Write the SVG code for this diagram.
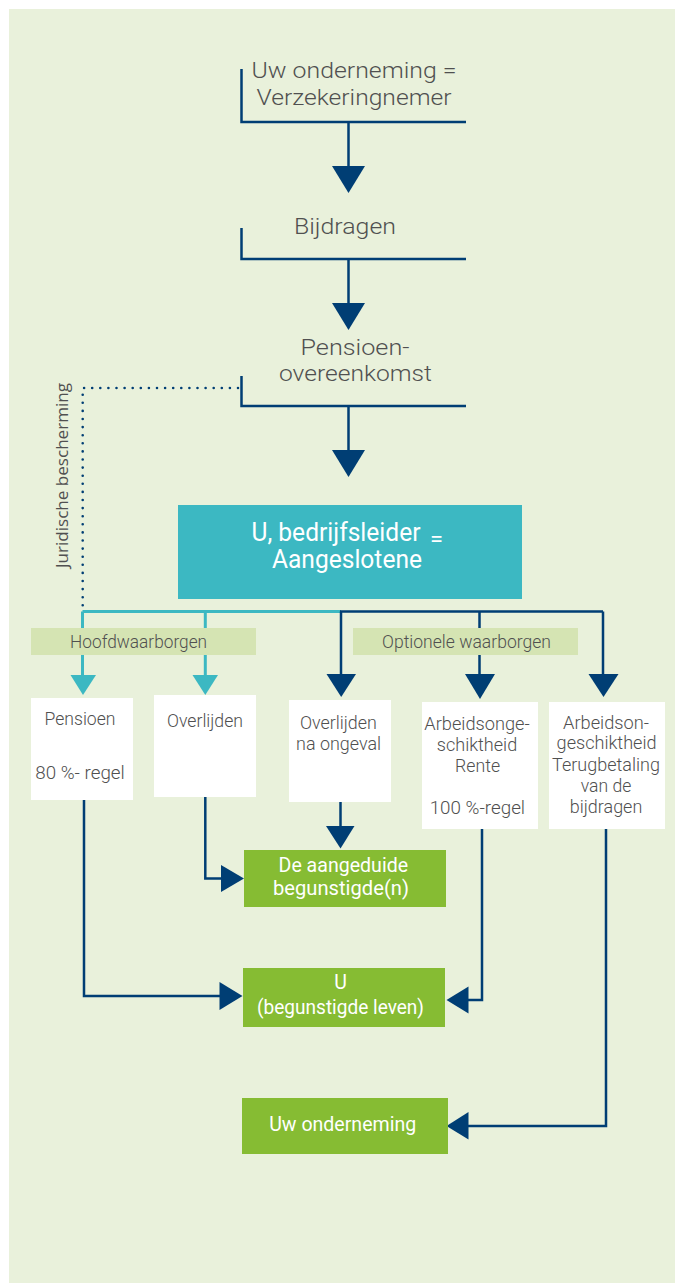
<svg xmlns="http://www.w3.org/2000/svg" width="675" height="1283" viewBox="0 0 675 1283">
<style>
.t{font-family:Roboto,"Liberation Sans",sans-serif;font-weight:300;fill:#505050;text-anchor:middle}
.w{font-family:Roboto,"Liberation Sans",sans-serif;fill:#fff;text-anchor:middle}
.ln{fill:none;stroke:#003E74;stroke-width:2.5}
.tl{fill:none;stroke:#3CB8C2;stroke-width:3}
.ah{fill:#003E74}
.th{fill:#3CB8C2}
.box{fill:#fff}
.gr{fill:#86BC33}
.lab{fill:#D5E4B3}
</style>
<rect x="9" y="9" width="666" height="1274" fill="#E9F1DB"/>

<g id="connectors">
<path class="ln" d="M241.5,69 V122 H466 M348.5,122 V168"/>
<polygon class="ah" points="332,166 365,166 348.5,193"/>
<path class="ln" d="M241.5,228 V259 H466 M348.5,259 V305"/>
<polygon class="ah" points="332,303 365,303 348.5,330"/>
<path class="ln" d="M241.5,376 V406 H466 M348.5,406 V452"/>
<polygon class="ah" points="332,450 365,450 348.5,477"/>
<path d="M238,388 H82.7 V608" fill="none" stroke="#003E74" stroke-width="2.6" stroke-linecap="round" stroke-dasharray="0 8.1"/>
<path class="tl" d="M82.5,611.5 H341 M82.5,611.5 V677 M205.3,611.5 V677"/>
<polygon class="th" points="70.5,675 96,675 83,695"/>
<polygon class="th" points="192.5,675 218,675 205.3,695"/>
<path class="ln" d="M340,611.5 H603 M341,611.5 V676 M479.5,611.5 V676 M603,611.5 V676"/>
<polygon class="ah" points="326.5,674 356,674 341.2,697"/>
<polygon class="ah" points="465,674 495,674 480,699"/>
<polygon class="ah" points="588.5,674 618.5,674 603.5,697"/>
<path class="ln" d="M84,800 V996 H222"/>
<polygon class="ah" points="219.5,982 219.5,1010 242.5,996"/>
<path class="ln" d="M205.3,797 V878.5 H223"/>
<polygon class="ah" points="221,865 221,892 244,878.5"/>
<path class="ln" d="M340.5,802 V828"/>
<polygon class="ah" points="326,826 354.5,826 340.5,848.5"/>
<path class="ln" d="M482,829 V1000 H466"/>
<polygon class="ah" points="468.5,986.5 468.5,1013.5 446.5,1000"/>
<path class="ln" d="M606,829 V1126 H466"/>
<polygon class="ah" points="468.5,1112 468.5,1139.5 446.5,1126"/>
</g>

<g id="n-onderneming">
<text class="t" x="354" y="78" font-size="22" textLength="205" lengthAdjust="spacingAndGlyphs">Uw onderneming =</text>
<text class="t" x="354" y="105" font-size="22" textLength="195" lengthAdjust="spacingAndGlyphs">Verzekeringnemer</text>
</g>
<g id="n-bijdragen">
<text class="t" x="345" y="234" font-size="22" textLength="102" lengthAdjust="spacingAndGlyphs">Bijdragen</text>
</g>
<g id="n-pensioenovereenkomst">
<text class="t" x="355" y="355" font-size="22" textLength="109" lengthAdjust="spacingAndGlyphs">Pensioen-</text>
<text class="t" x="355.5" y="381" font-size="22" textLength="153" lengthAdjust="spacingAndGlyphs">overeenkomst</text>
</g>
<g id="n-juridisch">
<text class="t" transform="translate(68,475.5) rotate(-90)" x="0" y="0" font-size="17" style="font-family:'Open Sans',sans-serif;font-weight:400" textLength="185" lengthAdjust="spacingAndGlyphs">Juridische bescherming</text>
</g>
<g id="n-aangeslotene">
<rect x="178" y="505" width="344" height="94" fill="#3CB8C2"/>
<text class="w" x="336" y="541" font-size="25" textLength="169" lengthAdjust="spacingAndGlyphs">U, bedrijfsleider</text>
<text class="w" x="436.5" y="546" font-size="22" textLength="13" lengthAdjust="spacingAndGlyphs">=</text>
<text class="w" x="347" y="568" font-size="25" textLength="150" lengthAdjust="spacingAndGlyphs">Aangeslotene</text>
</g>
<g id="n-hoofdwaarborgen">
<rect class="lab" x="31" y="628" width="225" height="27"/>
<text class="t" x="138.6" y="648" font-size="18" textLength="137" lengthAdjust="spacingAndGlyphs">Hoofdwaarborgen</text>
</g>
<g id="n-optionele">
<rect class="lab" x="353" y="628" width="225" height="27"/>
<text class="t" x="466.5" y="647.5" font-size="18" textLength="169" lengthAdjust="spacingAndGlyphs">Optionele waarborgen</text>
</g>
<g id="n-pensioen">
<rect class="box" x="31" y="698" width="102" height="102"/>
<text class="t" x="80" y="725" font-size="19" textLength="71" lengthAdjust="spacingAndGlyphs">Pensioen</text>
<text class="t" x="80" y="779" font-size="19" textLength="89.5" lengthAdjust="spacingAndGlyphs">80 %- regel</text>
</g>
<g id="n-overlijden">
<rect class="box" x="154" y="695" width="102" height="102"/>
<text class="t" x="205" y="726.7" font-size="19" textLength="76" lengthAdjust="spacingAndGlyphs">Overlijden</text>
</g>
<g id="n-overlijden-ongeval">
<rect class="box" x="289" y="700" width="102" height="102"/>
<text class="t" x="338.4" y="729" font-size="18" textLength="77" lengthAdjust="spacingAndGlyphs">Overlijden</text>
<text class="t" x="338.6" y="750" font-size="18" textLength="85" lengthAdjust="spacingAndGlyphs">na ongeval</text>
</g>
<g id="n-ao-rente">
<rect class="box" x="422" y="702" width="116" height="127"/>
<text class="t" x="477" y="730" font-size="18" textLength="105.5" lengthAdjust="spacingAndGlyphs">Arbeidsonge-</text>
<text class="t" x="477" y="750.7" font-size="18" textLength="80.4" lengthAdjust="spacingAndGlyphs">schiktheid</text>
<text class="t" x="477.6" y="771.7" font-size="18" textLength="45" lengthAdjust="spacingAndGlyphs">Rente</text>
<text class="t" x="477.4" y="814" font-size="19" textLength="95.4" lengthAdjust="spacingAndGlyphs">100 %-regel</text>
</g>
<g id="n-ao-terugbetaling">
<rect class="box" x="549" y="702" width="116" height="127"/>
<text class="t" x="606" y="729" font-size="18" textLength="86" lengthAdjust="spacingAndGlyphs">Arbeidson-</text>
<text class="t" x="606.6" y="749" font-size="18" textLength="100" lengthAdjust="spacingAndGlyphs">geschiktheid</text>
<text class="t" x="606" y="770.7" font-size="18" textLength="108" lengthAdjust="spacingAndGlyphs">Terugbetaling</text>
<text class="t" x="606" y="792" font-size="18" textLength="50.5" lengthAdjust="spacingAndGlyphs">van de</text>
<text class="t" x="606" y="813" font-size="18" textLength="72.5" lengthAdjust="spacingAndGlyphs">bijdragen</text>
</g>
<g id="n-begunstigden">
<rect class="gr" x="244" y="850" width="202" height="57"/>
<text class="w" x="343.3" y="871.7" font-size="19.5" textLength="129.5" lengthAdjust="spacingAndGlyphs">De aangeduide</text>
<text class="w" x="341" y="895" font-size="19.5" textLength="136" lengthAdjust="spacingAndGlyphs">begunstigde(n)</text>
</g>
<g id="n-u-leven">
<rect class="gr" x="243" y="968" width="202" height="59"/>
<text class="w" x="340.5" y="989.3" font-size="19.5">U</text>
<text class="w" x="340.5" y="1014" font-size="19.5" textLength="167" lengthAdjust="spacingAndGlyphs">(begunstigde leven)</text>
</g>
<g id="n-uw-onderneming">
<rect class="gr" x="242" y="1098" width="206" height="56"/>
<text class="w" x="342.7" y="1131" font-size="20" textLength="147" lengthAdjust="spacingAndGlyphs">Uw onderneming</text>
</g>
</svg>
